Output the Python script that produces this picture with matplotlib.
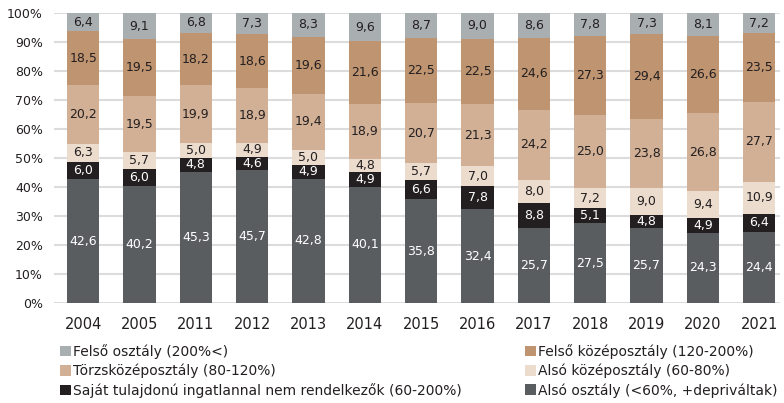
import matplotlib
matplotlib.use("Agg")
import matplotlib.pyplot as plt
import numpy as np

years = ["2004", "2005", "2011", "2012", "2013", "2014", "2015", "2016", "2017", "2018", "2019", "2020", "2021"]
also_osztaly = [42.6, 40.2, 45.3, 45.7, 42.8, 40.1, 35.8, 32.4, 25.7, 27.5, 25.7, 24.3, 24.4]
sajat_nelkul = [6.0, 6.0, 4.8, 4.6, 4.9, 4.9, 6.6, 7.8, 8.8, 5.1, 4.8, 4.9, 6.4]
also_kozep = [6.3, 5.7, 5.0, 4.9, 5.0, 4.8, 5.7, 7.0, 8.0, 7.2, 9.0, 9.4, 10.9]
torzs_kozep = [20.2, 19.5, 19.9, 18.9, 19.4, 18.9, 20.7, 21.3, 24.2, 25.0, 23.8, 26.8, 27.7]
felso_kozep = [18.5, 19.5, 18.2, 18.6, 19.6, 21.6, 22.5, 22.5, 24.6, 27.3, 29.4, 26.6, 23.5]
felso_osztaly = [6.4, 9.1, 6.8, 7.3, 8.3, 9.6, 8.7, 9.0, 8.6, 7.8, 7.3, 8.1, 7.2]

series = [
    ("Alsó osztály (<60%, +depriváltak)", also_osztaly, "#5a5d60", "white"),
    ("Saját tulajdonú ingatlannal nem rendelkezők (60-200%)", sajat_nelkul, "#231f20", "white"),
    ("Alsó középosztály (60-80%)", also_kozep, "#ecdccd", "#231f20"),
    ("Törzsközéposztály (80-120%)", torzs_kozep, "#d2b096", "#231f20"),
    ("Felső középosztály (120-200%)", felso_kozep, "#bf9470", "#231f20"),
    ("Felső osztály (200%<)", felso_osztaly, "#a9aeb0", "#231f20"),
]

plt.rcParams['font.family'] = ['DejaVu Sans']

fig = plt.figure(figsize=(7.84, 4.03), dpi=100)
ax = fig.add_axes([0.069, 0.248, 0.926, 0.72])

x = np.arange(len(years))
bottom = np.zeros(len(years))
handles = {}
for name, vals, color, tcolor in series:
    v = np.array(vals)
    b = ax.bar(x, v, width=0.57, bottom=bottom, color=color, zorder=3, linewidth=0)
    handles[name] = b
    for xi, vi, bi in zip(x, v, bottom):
        ax.text(xi, bi + vi / 2, f"{vi:.1f}".replace(".", ","), ha="center", va="center",
                fontsize=9, color=tcolor, zorder=4)
    bottom += v

ax.set_xlim(-0.515, len(years) - 1 + 0.37)
ax.set_ylim(0, 100)
ax.set_yticks(np.arange(0, 101, 10))
ax.set_yticklabels([f"{t}%" for t in range(0, 101, 10)], fontsize=9, color="#231f20")
ax.set_xticks(x)
ax.set_xticklabels(years, fontsize=10.5, color="#231f20", fontweight="medium")
ax.tick_params(axis="both", length=0)
ax.tick_params(axis="x", pad=10)
ax.tick_params(axis="y", pad=8)
ax.grid(axis="y", color="#dcdcdc", linewidth=1.5, zorder=0)
for s in ax.spines.values():
    s.set_visible(False)

left_names = ["Felső osztály (200%<)", "Törzsközéposztály (80-120%)",
              "Saját tulajdonú ingatlannal nem rendelkezők (60-200%)"]
right_names = ["Felső középosztály (120-200%)", "Alsó középosztály (60-80%)",
               "Alsó osztály (<60%, +depriváltak)"]
common = dict(loc="upper left", frameon=False, fontsize=10,
              handlelength=0.8, handleheight=0.8, handletextpad=0.15,
              labelspacing=0.35, borderaxespad=0, borderpad=0)
leg1 = fig.legend([handles[n] for n in left_names], left_names,
                  bbox_to_anchor=(60 / 784, 1 - 344 / 403), **common)
leg2 = fig.legend([handles[n] for n in right_names], right_names,
                  bbox_to_anchor=(525 / 784, 1 - 344 / 403), **common)
for lg in (leg1, leg2):
    for t in lg.get_texts():
        t.set_color("#231f20")

fig.savefig("out.png", dpi=100)
